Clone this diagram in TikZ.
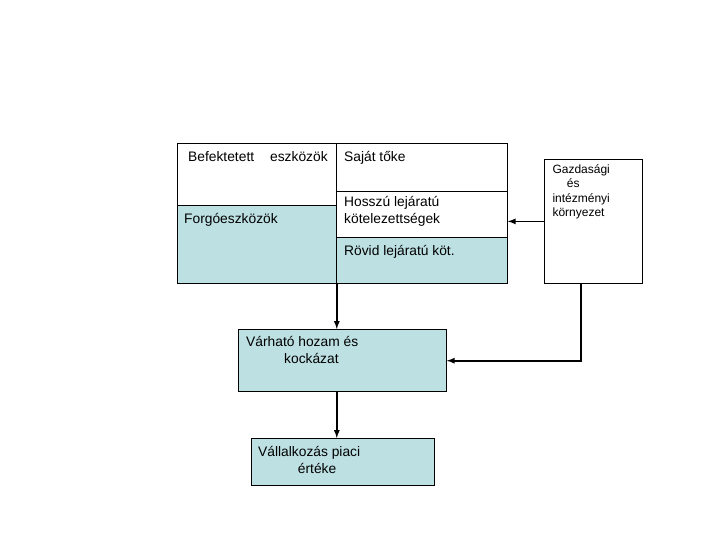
\documentclass[tikz,border=0pt]{standalone}
\usepackage{fontspec}
\setmainfont{Liberation Sans}
\usetikzlibrary{positioning,arrows,calc}
\definecolor{cellblue}{RGB}{189,224,227}
\tikzset{
    cell/.style = {
        draw,
        shape=rectangle,
        anchor=north west,
        inner sep=0pt,
        line width=0.8pt
    },
    shaded/.style = {
        cell,
        fill=cellblue
    },
    txt/.style = {
        inner sep=0pt,
        anchor=base west,
        font=\fontsize{13.8}{16.3}\selectfont
    },
    smalltxt/.style = {
        inner sep=0pt,
        anchor=base west,
        font=\fontsize{12}{14.5}\selectfont
    },
    flow/.style = {
        draw,
        ->,
        line width=1.7pt
    },
    >=latex,
}
\begin{document}
\begin{tikzpicture}[x=1pt,y=-1pt]
            \useasboundingbox (0,0) rectangle (720,540);

            \node[cell, minimum width=159pt, minimum height=62pt] (befekt) at (177,143) {};
            \node[shaded, minimum width=159pt, minimum height=78pt] (forgo) at (177,205) {};
            \node[cell, minimum width=171pt, minimum height=48pt] (sajat) at (336,143) {};
            \node[cell, minimum width=171pt, minimum height=46pt] (hosszu) at (336,191) {};
            \node[shaded, minimum width=171pt, minimum height=46pt] (rovid) at (336,237) {};
            \node[cell, minimum width=98pt, minimum height=124pt] (gazd) at (544,159) {};
            \node[shaded, minimum width=208pt, minimum height=62pt] (varhato) at (238,329) {};
            \node[shaded, minimum width=183pt, minimum height=47pt] (vallalk) at (251,438) {};

            \node[txt] (befekttext) at (188,161.5) {Befektetett\hspace{16pt}eszközök};
            \node[txt] (forgotext) at (184,223) {Forgóeszközök};
            \node[txt] (sajattext) at (344,161.5) {Saját tőke};
            \node[txt] (hosszutext1) at (344,206.7) {Hosszú lejáratú};
            \node[txt] (hosszutext2) at (344,223) {kötelezettségek};
            \node[txt] (rovidtext) at (344,255) {Rövid lejáratú köt.};
            \node[txt] (varhatotext1) at (246,346.7) {Várható hozam és};
            \node[txt] (varhatotext2) at (284,363.3) {kockázat};
            \node[txt] (vallalktext1) at (258,456.7) {Vállalkozás piaci};
            \node[txt] (vallalktext2) at (297.7,473.3) {értéke};
            \node[smalltxt] (gazdtext1) at (552.3,173.3) {Gazdasági};
            \node[smalltxt] (gazdtext2) at (566.7,187.7) {és};
            \node[smalltxt] (gazdtext3) at (552.3,202.2) {intézményi};
            \node[smalltxt] (gazdtext4) at (552.3,216.7) {környezet};

            \coordinate (turn) at (581,360.7);

            \path[flow] (forgo.south east) -- (forgo.south east |- varhato.north);
            \path[flow] (varhato.south -| forgo.south east) -- (forgo.south east |- vallalk.north);
            \path[flow] (gazd.west) -- (gazd.west -| hosszu.east);
            \path[flow] (turn |- gazd.south) -- (turn) -- (turn -| varhato.east);

        \end{tikzpicture}
\end{document}
